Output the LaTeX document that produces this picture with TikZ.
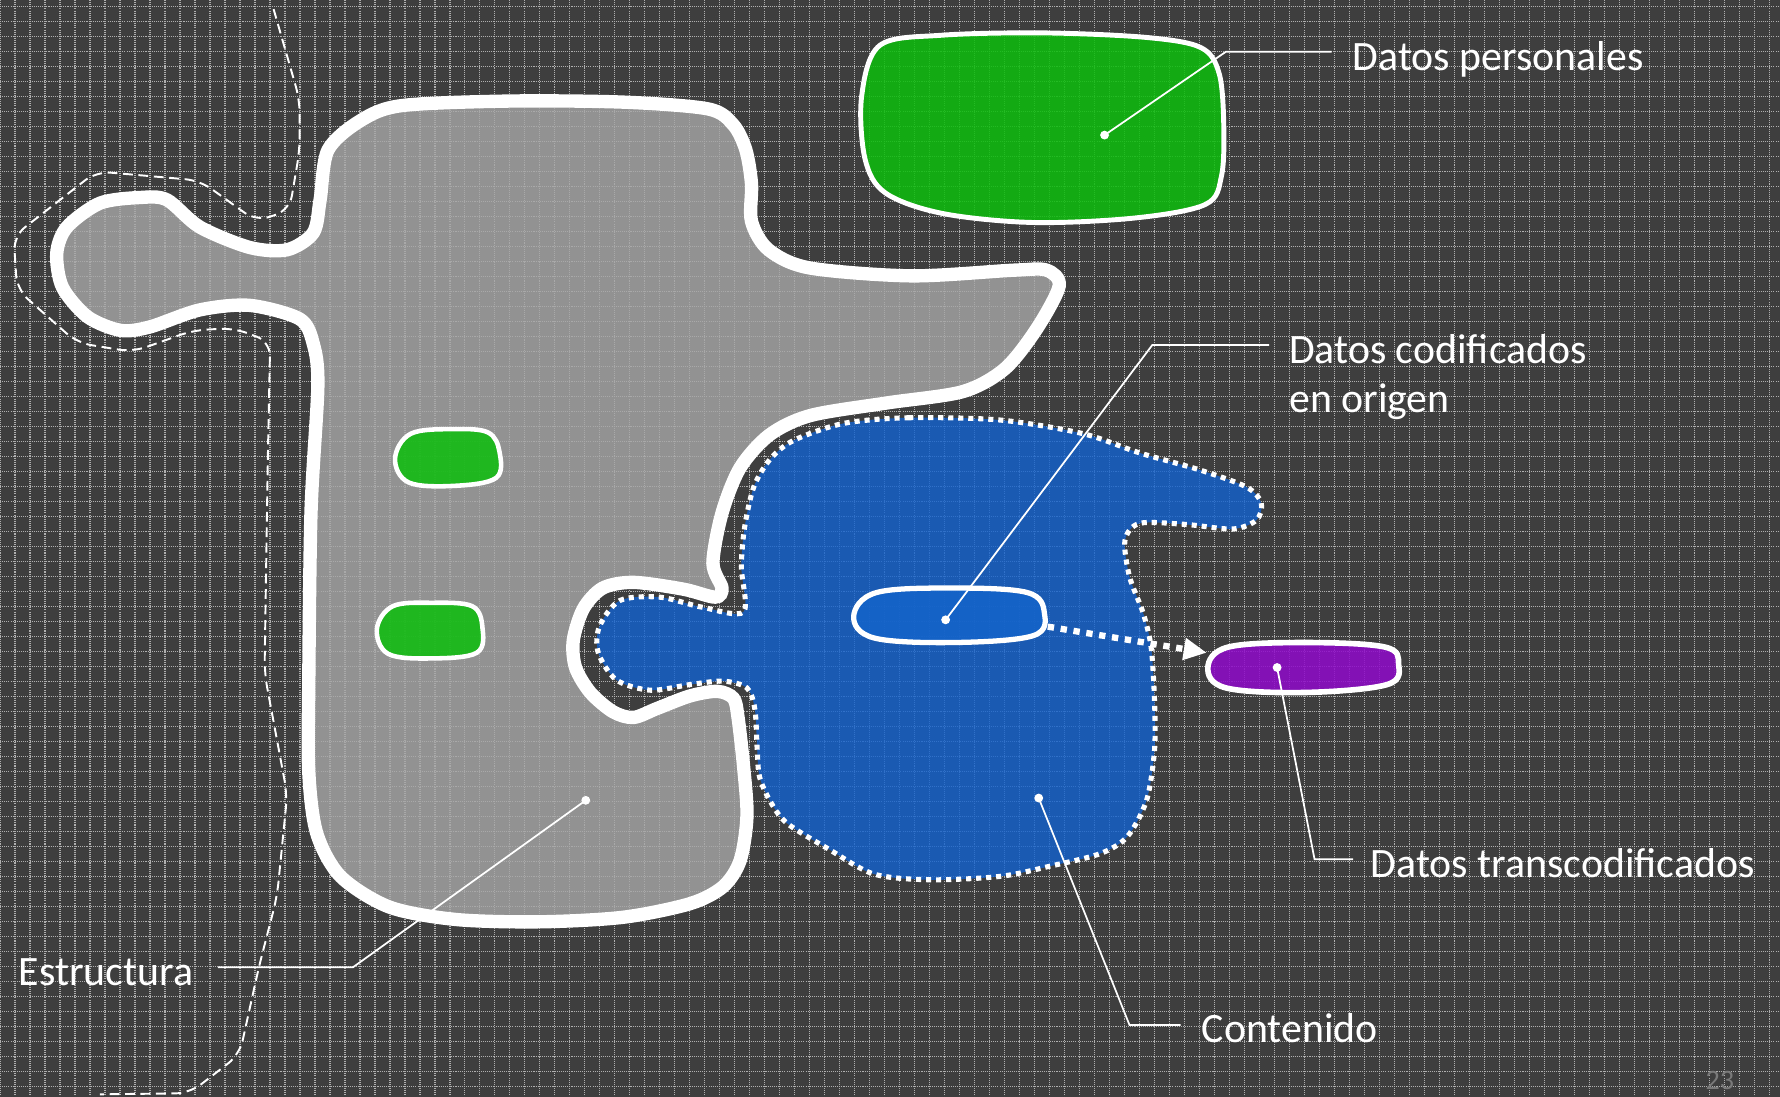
\documentclass[tikz,border=0pt]{standalone}
\usepackage{fontspec}
\setmainfont{Carlito}
\usetikzlibrary{arrows.meta}
\definecolor{bgdark}{HTML}{3E3E3E}
\definecolor{griddot}{HTML}{B0B0B0}
\definecolor{estrgray}{HTML}{A8A8A8}
\definecolor{persgreen}{HTML}{0CBE0C}
\definecolor{contblue}{HTML}{1262D0}
\definecolor{codblue}{HTML}{1464CA}
\definecolor{transpurple}{HTML}{900ACB}
\definecolor{pagenum}{HTML}{7A7A7A}

\begin{document}
\begin{tikzpicture}[x=0.011352cm, y=-0.011352cm,
  every node/.style={font=\fontsize{11.9}{14.5}\selectfont, text=white, inner sep=0pt},
  gridline/.style={griddot, line width=0.35pt, dash pattern=on 0.3pt off 0.3pt},
  leader/.style={white, line width=0.5pt},
  pin/.style={fill=white},
  label/.style={anchor=base west}]
  \fill[bgdark] (0,0) rectangle (1568,966);
  \useasboundingbox (0,0) rectangle (1568,966);
  % grid
  \foreach \i in {0,...,118} \draw[gridline] ({13.21*\i},0) -- ({13.21*\i},966);
  \foreach \j in {0,...,73} \draw[gridline] (0,{13.21*\j+5.9}) -- (1568,{13.21*\j+5.9});
  % estructura
  \filldraw[fill=estrgray, fill opacity=0.8, draw=white, line width=3.8pt]
    plot[smooth cycle, tension=0.5] coordinates {(318,106) (354,93) (450,89) (550,90) (624,96) (646,110) (657,132) (662,162) (662,195) (677,220) (713,236) (803,243) (893,238) (922,238) (933,252) (913,290) (885,325) (848,345) (781,355) (714,366) (678,383) (652,412) (636,452) (628,496) (636,518) (630,526) (602,519) (558,513) (531,518) (514,536) (505,564) (507,588) (520,610) (540,627) (558,632) (579,624) (608,613) (632,609) (646,615) (650,631) (655,675) (658,719) (652,758) (637,781) (608,796) (549,808) (476,812) (402,810) (343,799) (300,772) (279,734) (272,680) (272,600) (274,450) (280,340) (276,303) (264,281) (220,269) (176,273) (132,288) (106,291) (77,279) (55,253) (50,223) (59,200) (88,179) (123,174) (147,176) (176,200) (220,218) (253,220) (276,205) (282,176) (289,132)};
  \filldraw[fill=persgreen, fill opacity=0.85, draw=white, line width=1.3pt]
    plot[smooth cycle, tension=0.6] coordinates {(362,382) (400,378) (430,381) (440,398) (437,421) (400,428) (360,425) (348,404)};
  \filldraw[fill=persgreen, fill opacity=0.85, draw=white, line width=1.3pt]
    plot[smooth cycle, tension=0.6] coordinates {(346,534) (380,531) (416,534) (425,553) (420,575) (380,580) (342,576) (332,554)};
  % datos personales
  \filldraw[fill=persgreen, fill opacity=0.85, draw=white, line width=1.4pt]
    plot[smooth cycle, tension=0.55] coordinates {(775,40) (830,31) (920,29) (1010,33) (1058,42) (1074,65) (1078,110) (1076,155) (1062,180) (1000,192) (910,196) (830,188) (780,170) (762,140) (759,85)};
  % contenido
  \filldraw[fill=contblue, fill opacity=0.8, draw=white, line width=1.45pt, dash pattern=on 1.45pt off 1.4pt]
    plot[smooth cycle, tension=0.5] coordinates {(743,373) (800,368) (881,370) (954,382) (1004,399) (1057,414) (1098,429) (1111,443) (1107,458) (1086,466) (1045,462) (1004,461) (991,476) (995,508) (1007,540) (1014,570) (1017,617) (1017,661) (1010,705) (993,737) (969,752) (925,763) (881,772) (820,775) (770,770) (730,748) (693,725) (678,705) (669,684) (667,660) (665,625) (658,606) (637,600) (608,603) (573,608) (543,599) (527,575) (528,552) (546,529) (581,526) (619,535) (655,539) (653,499) (656,464) (664,429) (678,405) (699,388)};
  \filldraw[fill=codblue, fill opacity=0.85, draw=white, line width=1.5pt]
    plot[smooth cycle, tension=0.6] coordinates {(772,522) (840,518) (905,522) (920,540) (910,560) (840,566) (770,562) (752,543)};
  % transcodificados
  \filldraw[fill=transpurple, fill opacity=0.85, draw=white, line width=1.6pt]
    plot[smooth cycle, tension=0.6] coordinates {(1082,570) (1150,566) (1220,570) (1232,585) (1222,603) (1150,610) (1080,606) (1064,588)};
  \coordinate (arrS) at (923,552);
  \coordinate (arrE) at (1063,575);
  \draw[white, line width=1.8pt, dash pattern=on 1.8pt off 1.9pt, -{Triangle[length=0.23cm,width=0.21cm]}] (arrS) -- (arrE);
  % left boundary
  \draw[white, line width=0.55pt, dash pattern=on 2.8pt off 1.6pt, rounded corners=4pt]
    (241,8) -- (264,88) -- (264,132) -- (255,185) -- (226,195) -- (176,159) -- (85,151) -- (12,208) -- (15,255) -- (68,302) -- (117,310) -- (170,291) -- (206,289) -- (238,301) -- (236,400) -- (233,593) -- (253,700) -- (244,790) -- (228,852) -- (211,929) -- (167,963) -- (88,964);
  % labels
  \node[label] (persLbl) at (1191,62) {Datos personales};
  \node[label] (codLbl) at (1135,320) {Datos codificados};
  \node[label] (codLblB) at (1135,363) {en origen};
  \node[label] (transLbl) at (1207,773) {Datos transcodificados};
  \node[label] (contLbl) at (1058,918) {Contenido};
  \node[label] (estrLbl) at (16,868) {Estructura};
  \node[text=pagenum, font=\fontsize{8}{9}\selectfont] (pageNum) at (1515,952) {23};
  % leaders
  \coordinate (persDot) at (973,119);  \coordinate (persKnee) at (1080,45.5); \coordinate (persEnd) at (1173,45.5);
  \coordinate (codDot) at (833,546);   \coordinate (codKnee) at (1015,304);   \coordinate (codEnd) at (1118,304);
  \coordinate (transDot) at (1125,588); \coordinate (transKnee) at (1158,757); \coordinate (transEnd) at (1192,757);
  \coordinate (contDot) at (915,703);  \coordinate (contKnee) at (995,903);   \coordinate (contEnd) at (1040,903);
  \coordinate (estrDot) at (516,705);  \coordinate (estrKnee) at (311,852);   \coordinate (estrEnd) at (192,852);
  \foreach \p in {pers,cod,trans,cont,estr} {
    \draw[leader] (\p Dot) -- (\p Knee) -- (\p End);
    \fill[pin] (\p Dot) circle (3.9);
  }
\end{tikzpicture}
\end{document}
